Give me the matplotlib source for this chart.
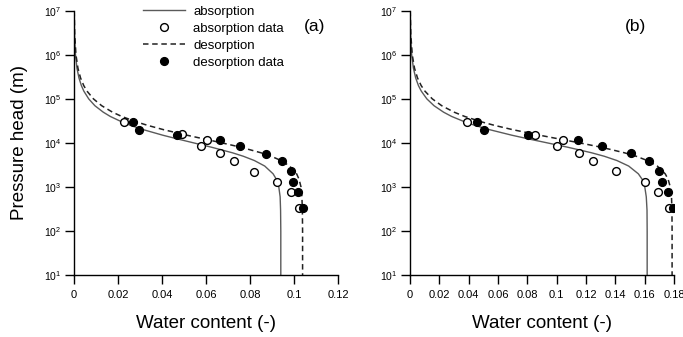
import matplotlib
matplotlib.use("Agg")
import matplotlib.pyplot as plt
from matplotlib.ticker import NullLocator, FixedLocator

plt.rcParams['font.family'] = ['Liberation Sans', 'DejaVu Sans']

# ---------------- data ----------------
curve_h = [1e7, 3e6, 1e6, 5e5, 3e5, 2e5, 1.5e5, 1e5, 7e4, 5e4, 4e4, 3e4, 2.5e4, 2e4,
           1.5e4, 1.2e4, 1e4, 8e3, 6e3, 5e3, 4e3, 3e3, 2e3, 1.5e3, 1e3, 600, 300, 100, 10]

# panel (a)
a_abs_theta = [0.00007, 0.00022, 0.00067, 0.00134, 0.00224, 0.00336, 0.00447, 0.0067,
               0.0095, 0.0133, 0.0165, 0.0218, 0.0258, 0.0316, 0.0404, 0.0481, 0.0546,
               0.0626, 0.072, 0.077, 0.082, 0.0867, 0.0905, 0.092, 0.0931, 0.0937, 0.0939,
               0.094, 0.094]
a_des_theta = [0.0001, 0.0003, 0.00089, 0.00178, 0.00296, 0.00444, 0.00591, 0.00885,
               0.0126, 0.0175, 0.0217, 0.0285, 0.0336, 0.0408, 0.0514, 0.0603, 0.0675,
               0.0759, 0.085, 0.0897, 0.0941, 0.098, 0.1012, 0.1023, 0.1032, 0.1036,
               0.1038, 0.1039, 0.1039]
a_abs_data_theta = [0.0227, 0.049, 0.0577, 0.0605, 0.0665, 0.0727, 0.0817, 0.0924, 0.0985, 0.1023]
a_abs_data_h = [3.0e4, 1.57e4, 8.6e3, 1.17e4, 5.9e3, 3.85e3, 2.23e3, 1.29e3, 762, 330]
a_des_data_theta = [0.0267, 0.0297, 0.0467, 0.0664, 0.0756, 0.0874, 0.0944, 0.0985, 0.0997, 0.1017, 0.1042]
a_des_data_h = [3.0e4, 2.0e4, 1.54e4, 1.15e4, 8.4e3, 5.7e3, 4.0e3, 2.3e3, 1.3e3, 762, 330]

# panel (b)
b_abs_theta = [0.00012, 0.00038, 0.00115, 0.00231, 0.00385, 0.00577, 0.0077, 0.0115,
               0.0164, 0.0229, 0.0284, 0.0375, 0.0444, 0.0544, 0.0695, 0.0827, 0.094,
               0.1077, 0.1238, 0.1325, 0.1411, 0.1491, 0.1557, 0.1583, 0.1601, 0.1611,
               0.1616, 0.1617, 0.1617]
b_des_theta = [0.00015, 0.00051, 0.00153, 0.00306, 0.00509, 0.00763, 0.01017, 0.01523,
               0.02166, 0.0301, 0.0373, 0.049, 0.0578, 0.0702, 0.0885, 0.1036, 0.1161,
               0.1305, 0.1462, 0.1543, 0.1618, 0.1686, 0.174, 0.176, 0.1775, 0.1783,
               0.1786, 0.1787, 0.1787]
b_abs_data_theta = [0.0386, 0.085, 0.100, 0.1043, 0.115, 0.125, 0.1404, 0.160, 0.1694, 0.1764]
b_abs_data_h = [3.0e4, 1.54e4, 8.6e3, 1.17e4, 5.8e3, 3.9e3, 2.3e3, 1.32e3, 790, 340]
b_des_data_theta = [0.046, 0.0503, 0.0807, 0.1147, 0.1308, 0.151, 0.1628, 0.1696, 0.1719, 0.1757, 0.1796]
b_des_data_h = [3.0e4, 2.0e4, 1.54e4, 1.15e4, 8.6e3, 5.8e3, 4.0e3, 2.3e3, 1.29e3, 762, 340]

a_xticks = [0, 0.02, 0.04, 0.06, 0.08, 0.1, 0.12]
a_xlabels = ['0', '0.02', '0.04', '0.06', '0.08', '0.1', '0.12']
b_xticks = [0, 0.02, 0.04, 0.06, 0.08, 0.1, 0.12, 0.14, 0.16, 0.18]
b_xlabels = ['0', '0.02', '0.04', '0.06', '0.08', '0.1', '0.12', '0.14', '0.16', '0.18']
y_ticks = [1e1, 1e2, 1e3, 1e4, 1e5, 1e6, 1e7]

labels = ['absorption', 'absorption data', 'desorption', 'desorption data']

# ---------------- figure ----------------
W, H = 683, 337
fig = plt.figure(figsize=(W / 100, H / 100), dpi=100)

def fx(px):
    return px / W

def fy(py):
    return 1 - py / H

ax_a = fig.add_axes([fx(74), fy(275.3), fx(338) - fx(74), fy(10.7) - fy(275.3)])
ax_b = fig.add_axes([fx(410), fy(275.3), fx(674) - fx(410), fy(10.7) - fy(275.3)])

solid_col = '#5a5a5a'
dash_col = '#222222'

def draw(ax, th_a, th_d, dta, dha, dtd, dhd, xmax, xt, xl):
    l1, = ax.plot(th_a, curve_h, color=solid_col, lw=1.0, label=labels[0])
    l2, = ax.plot(dta, dha, ls='none', marker='o', ms=5.6, mfc='white', mec='black',
                  mew=1.0, label=labels[1], zorder=3)
    l3, = ax.plot(th_d, curve_h, color=dash_col, lw=1.1, ls=(0, (3.6, 2.4)), label=labels[2])
    l4, = ax.plot(dtd, dhd, ls='none', marker='o', ms=5.6, mfc='black', mec='black',
                  mew=1.0, label=labels[3], zorder=4)
    ax.set_yscale('log')
    ax.set_ylim(10, 1e7)
    ax.set_xlim(0, xmax)
    ax.yaxis.set_major_locator(FixedLocator(y_ticks))
    ax.yaxis.set_minor_locator(NullLocator())
    ax.set_xticks(xt)
    ax.set_xticklabels(xl)
    for s in ['top', 'right']:
        ax.spines[s].set_visible(False)
    for s in ['left', 'bottom']:
        ax.spines[s].set_linewidth(1.0)
    ax.tick_params(axis='both', direction='out', length=6.3, width=1.0, labelsize=8, pad=4.5)
    ax.tick_params(axis='y', labelsize=7.5, pad=3)
    ax.set_xlabel('Water content (-)', fontsize=13.5, labelpad=10.5)
    return [l1, l2, l3, l4]

handles = draw(ax_a, a_abs_theta, a_des_theta,
               a_abs_data_theta, a_abs_data_h, a_des_data_theta, a_des_data_h,
               0.12, a_xticks, a_xlabels)
draw(ax_b, b_abs_theta, b_des_theta,
     b_abs_data_theta, b_abs_data_h, b_des_data_theta, b_des_data_h,
     0.18, b_xticks, b_xlabels)

fig.text(fx(315), fy(27), '(a)', fontsize=12.5, ha='center', va='center')
fig.text(fx(635), fy(27), '(b)', fontsize=12.5, ha='center', va='center')

ax_a.set_ylabel('Pressure head (m)', fontsize=13.5, labelpad=11)

fig.legend(handles=handles, labels=labels, loc='upper left',
           bbox_to_anchor=(fx(143), fy(5.5)), frameon=False, fontsize=9.5,
           handlelength=3.2, handletextpad=0.6, labelspacing=0.36,
           borderpad=0, borderaxespad=0)

fig.savefig('out.png', dpi=100)
